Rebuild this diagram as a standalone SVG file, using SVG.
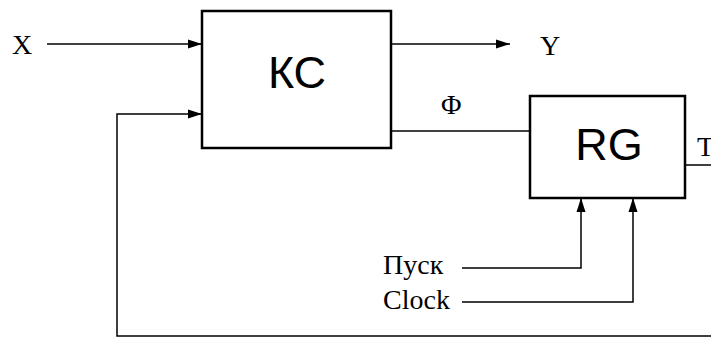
<svg xmlns="http://www.w3.org/2000/svg" width="711" height="338" viewBox="0 0 711 338">
<style>
.box{fill:#fff;stroke:#000;stroke-width:2.5}
.ln{fill:none;stroke:#000;stroke-width:1.5}
.lbl{font-family:"Liberation Serif",serif;font-size:28px;fill:#000}
.big{font-family:"Liberation Sans",Arial,sans-serif;font-size:45px;fill:#000;text-anchor:middle}
</style>
<defs>
<marker id="arr" markerUnits="userSpaceOnUse" markerWidth="14" markerHeight="10" refX="14" refY="5" orient="auto">
<path d="M0,0.5 L14,5 L0,9.5 z" fill="#000"/>
</marker>
</defs>
<rect width="711" height="338" fill="#fff"/>
<g id="connectors">
<path class="ln" d="M47,44 H202" marker-end="url(#arr)"/>
<path class="ln" d="M391,44 H510" marker-end="url(#arr)"/>
<path class="ln" d="M391,131 H530"/>
<path class="ln" d="M685,165 H720 V336 H117 V114 H202" marker-end="url(#arr)"/>
<path class="ln" d="M462,268 H581 V198" marker-end="url(#arr)"/>
<path class="ln" d="M462,302 H633 V198" marker-end="url(#arr)"/>
</g>
<g id="node-kc">
<rect class="box" x="202" y="11" width="189" height="137"/>
<text class="big" x="297" y="88">КС</text>
</g>
<g id="node-rg">
<rect class="box" x="530" y="96" width="155" height="102"/>
<text class="big" x="609" y="160">RG</text>
</g>
<g id="labels">
<text class="lbl" x="12" y="54">X</text>
<text class="lbl" x="540" y="55">Y</text>
<text class="lbl" x="441" y="114">Φ</text>
<text class="lbl" x="697" y="156">T</text>
<text class="lbl" x="383" y="274">Пуск</text>
<text class="lbl" x="383" y="309">Clock</text>
</g>
</svg>
